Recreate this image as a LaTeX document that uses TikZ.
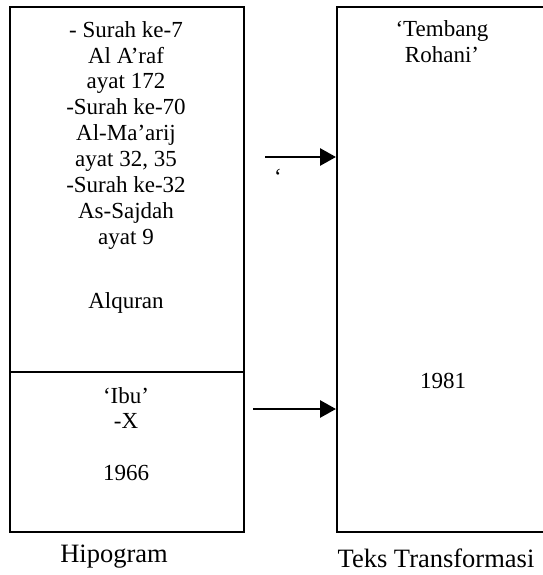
\documentclass[tikz,border=0pt]{standalone}
\usepackage{fontspec}
\setmainfont{Liberation Serif}
\usetikzlibrary{arrows.meta}
\begin{document}
\begin{tikzpicture}[x=1pt,y=1pt,
  box/.style={draw,line width=1.6pt,anchor=north west,inner sep=0pt},
  txt/.style={anchor=base,inner sep=0pt,font=\fontsize{23}{27}\selectfont},
  lbl/.style={anchor=base,inner sep=0pt,font=\fontsize{26.5}{31}\selectfont},
  arr/.style={line width=2.8pt,-{Triangle[length=16pt,width=17pt]}}]
\useasboundingbox (0,0) rectangle (542,-575);
% boxes
\node[box,minimum width=234pt,minimum height=365pt] (hq) at (9,-6) {};
\node[box,minimum width=234pt,minimum height=160pt] (hi) at (9,-371) {};
\node[box,minimum width=212pt,minimum height=525pt] (tt) at (336,-6) {};
% left top text
\node[txt] (l1) at (126,-38) {- Surah ke-7};
\node[txt] (l2) at (126,-63.5) {Al A’raf};
\node[txt] (l3) at (126,-89) {ayat 172};
\node[txt] (l4) at (126,-115) {-Surah ke-70};
\node[txt] (l5) at (126,-140.5) {Al-Ma’arij};
\node[txt] (l6) at (126,-166) {ayat 32, 35};
\node[txt] (l7) at (126,-192) {-Surah ke-32};
\node[txt] (l8) at (126,-218) {As-Sajdah};
\node[txt] (l9) at (126,-244) {ayat 9};
\node[txt] (l10) at (126,-308) {Alquran};
% left bottom text
\node[txt] (b1) at (126,-403) {‘Ibu’};
\node[txt] (b2) at (126,-428.5) {-X};
\node[txt] (b3) at (126,-480) {1966};
% right text
\node[txt] (r1) at (442,-37) {‘Tembang};
\node[txt] (r2) at (442,-63) {Rohani’};
\node[txt] (r3) at (443,-388) {1981};
% stray quote
\node[txt] (q) at (278,-184) {‘};
% labels
\node[lbl] (hip) at (114,-562) {Hipogram};
\node[lbl] (tek) at (436,-567) {Teks Transformasi};
% arrows
\coordinate (a1) at (265,-157);
\coordinate (a2) at (253,-409);
\draw[arr] (a1) -- (a1 -| tt.west);
\draw[arr] (a2) -- (a2 -| tt.west);
\end{tikzpicture}
\end{document}
